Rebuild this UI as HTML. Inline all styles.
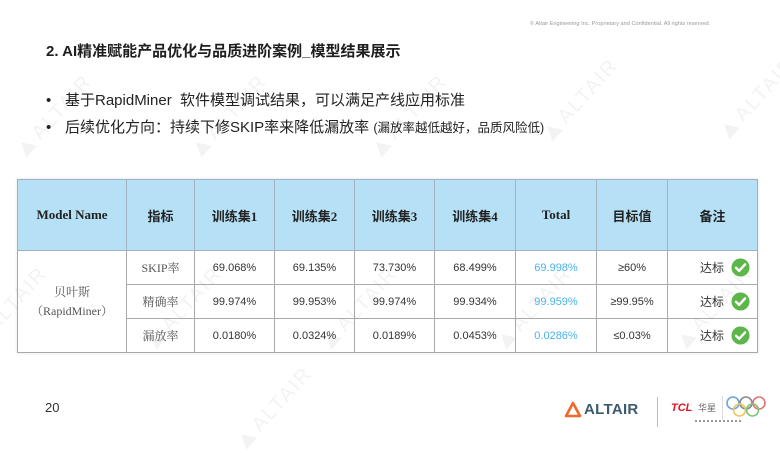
<!DOCTYPE html>
<html>
<head>
<meta charset="utf-8">
<style>
  html,body{margin:0;padding:0;}
  body{width:780px;height:438px;position:relative;overflow:hidden;background:#fff;
       font-family:"Liberation Sans","Noto Sans CJK SC",sans-serif;color:#222;}
  .abs{position:absolute;white-space:nowrap;}
  .wm{position:absolute;color:#f3f3f3;font:20px "Liberation Sans",sans-serif;letter-spacing:2px;
      transform:rotate(-48deg);transform-origin:0 100%;white-space:nowrap;}
  .wm span{display:inline-block;width:0;height:0;border-left:8px solid transparent;border-right:8px solid transparent;
      border-bottom:14px solid #f3f3f3;margin-right:6px;vertical-align:-1px;}
  table{position:absolute;left:17px;top:179px;border-collapse:collapse;table-layout:fixed;width:740px;
        box-shadow:0 0 3px rgba(0,0,0,0.12);}
  td{border:1px solid #a9a9a9;text-align:center;vertical-align:middle;padding:0;
     font:11px "Liberation Sans","Noto Sans CJK SC",sans-serif;color:#333;}
  tr.h td{background:#b6e0f5;height:70px;font:bold 13px "Liberation Serif","Noto Sans CJK SC",serif;color:#222;border-color:#9fb3bf;}
  tr.r td{height:33px;}
  td.ser{font:12px "Liberation Serif","Noto Serif CJK SC",serif;color:#555;}
  td.blue{color:#4ab3ea;}
  .ok{display:flex;justify-content:flex-end;align-items:center;padding-right:7px;font:12px "Liberation Sans","Noto Sans CJK SC",sans-serif;color:#333;}
  .ok svg{margin-left:7px;}
</style>
</head>
<body>
<!-- watermarks -->
<div class="wm" style="left:556px;top:122px;"><span></span>ALTAIR</div>
<div class="wm" style="left:733px;top:120px;"><span></span>ALTAIR</div>
<div class="wm" style="left:385px;top:138px;"><span></span>ALTAIR</div>
<div class="wm" style="left:205px;top:138px;"><span></span>ALTAIR</div>
<div class="wm" style="left:30px;top:138px;"><span></span>ALTAIR</div>
<div class="wm" style="left:360px;top:-75px;"><span></span>ALTAIR</div>
<div class="wm" style="left:510px;top:330px;"><span></span>ALTAIR</div>
<div class="wm" style="left:335px;top:330px;"><span></span>ALTAIR</div>
<div class="wm" style="left:160px;top:330px;"><span></span>ALTAIR</div>
<div class="wm" style="left:-15px;top:330px;"><span></span>ALTAIR</div>
<div class="wm" style="left:690px;top:330px;"><span></span>ALTAIR</div>
<div class="wm" style="left:250px;top:430px;"><span></span>ALTAIR</div>

<!-- copyright -->
<div class="abs" style="left:530px;top:21px;font-size:5.6px;color:#9a9a9a;">© Altair Engineering Inc. Proprietary and Confidential. All rights reserved.</div>

<!-- title -->
<div class="abs" style="left:46px;top:43px;font-size:15px;font-weight:bold;line-height:18px;color:#1e1e1e;">2. AI精准赋能产品优化与品质进阶案例_模型结果展示</div>

<!-- bullets -->
<div class="abs" style="left:46px;top:91px;font-size:15px;line-height:19px;color:#222;">•</div>
<div class="abs" style="left:65px;top:91px;font-size:15px;line-height:19px;color:#222;">基于RapidMiner&nbsp; 软件模型调试结果，可以满足产线应用标准</div>
<div class="abs" style="left:46px;top:118px;font-size:15px;line-height:19px;color:#222;">•</div>
<div class="abs" style="left:65px;top:118px;font-size:15px;line-height:19px;color:#222;">后续优化方向：持续下修SKIP率来降低漏放率 <span style="font-size:12.5px;">(漏放率越低越好，品质风险低)</span></div>

<!-- table -->
<table>
  <colgroup>
    <col style="width:109px"><col style="width:68px"><col style="width:80px"><col style="width:80px"><col style="width:80px">
    <col style="width:81px"><col style="width:81px"><col style="width:71px"><col style="width:90px">
  </colgroup>
  <tr class="h">
    <td>Model Name</td><td>指标</td><td>训练集1</td><td>训练集2</td><td>训练集3</td><td>训练集4</td><td>Total</td><td>目标值</td><td>备注</td>
  </tr>
  <tr class="r">
    <td class="ser" rowspan="3" style="line-height:19px;">贝叶斯<br>（RapidMiner）</td>
    <td class="ser">SKIP率</td><td>69.068%</td><td>69.135%</td><td>73.730%</td><td>68.499%</td><td class="blue">69.998%</td><td>≥60%</td>
    <td><div class="ok">达标<svg width="19" height="19" viewBox="0 0 20 20"><circle cx="10" cy="10" r="9.5" fill="#5db64a"/><path d="M5.2 10.3 L8.6 13.5 L14.8 6.8" stroke="#fff" stroke-width="2.6" fill="none" stroke-linecap="round" stroke-linejoin="round"/></svg></div></td>
  </tr>
  <tr class="r">
    <td class="ser">精确率</td><td>99.974%</td><td>99.953%</td><td>99.974%</td><td>99.934%</td><td class="blue">99.959%</td><td>≥99.95%</td>
    <td><div class="ok">达标<svg width="19" height="19" viewBox="0 0 20 20"><circle cx="10" cy="10" r="9.5" fill="#5db64a"/><path d="M5.2 10.3 L8.6 13.5 L14.8 6.8" stroke="#fff" stroke-width="2.6" fill="none" stroke-linecap="round" stroke-linejoin="round"/></svg></div></td>
  </tr>
  <tr class="r">
    <td class="ser">漏放率</td><td>0.0180%</td><td>0.0324%</td><td>0.0189%</td><td>0.0453%</td><td class="blue">0.0286%</td><td>≤0.03%</td>
    <td><div class="ok">达标<svg width="19" height="19" viewBox="0 0 20 20"><circle cx="10" cy="10" r="9.5" fill="#5db64a"/><path d="M5.2 10.3 L8.6 13.5 L14.8 6.8" stroke="#fff" stroke-width="2.6" fill="none" stroke-linecap="round" stroke-linejoin="round"/></svg></div></td>
  </tr>
</table>

<!-- footer -->
<div class="abs" style="left:45px;top:400px;font-size:13px;line-height:16px;color:#333;">20</div>

<svg class="abs" style="left:564px;top:401px;" width="18" height="17" viewBox="0 0 18 17">
  <path d="M9 2 L16 15 L2 15 Z" fill="none" stroke="#f2672a" stroke-width="2.6" stroke-linejoin="round"/>
</svg>
<div class="abs" style="left:584px;top:401px;font-size:15px;font-weight:bold;line-height:18px;color:#3b5a6d;letter-spacing:0.3px;">ALTAIR</div>
<div class="abs" style="left:657px;top:397px;width:1px;height:30px;background:#bdbdbd;"></div>
<div class="abs" style="left:671px;top:402px;font-size:11px;font-weight:bold;font-style:italic;line-height:13px;color:#e3141e;">TCL</div>
<div class="abs" style="left:698px;top:402px;font-size:9px;line-height:12px;color:#666;">华星</div>
<div class="abs" style="left:722px;top:396px;width:1px;height:24px;background:#ddd;"></div>
<svg class="abs" style="left:726px;top:395px;" width="40" height="24" viewBox="0 0 40 24">
  <g fill="none" stroke-width="1.6">
    <circle cx="7" cy="8" r="6" stroke="#6aa6dc"/>
    <circle cx="20" cy="8" r="6" stroke="#888"/>
    <circle cx="33" cy="8" r="6" stroke="#e57373"/>
    <circle cx="13.5" cy="15" r="6" stroke="#f0c85a"/>
    <circle cx="26.5" cy="15" r="6" stroke="#7cc47c"/>
  </g>
</svg>
<div class="abs" style="left:695px;top:420px;width:48px;height:2px;background:repeating-linear-gradient(90deg,#999 0 2px,transparent 2px 4px);"></div>
</body>
</html>
